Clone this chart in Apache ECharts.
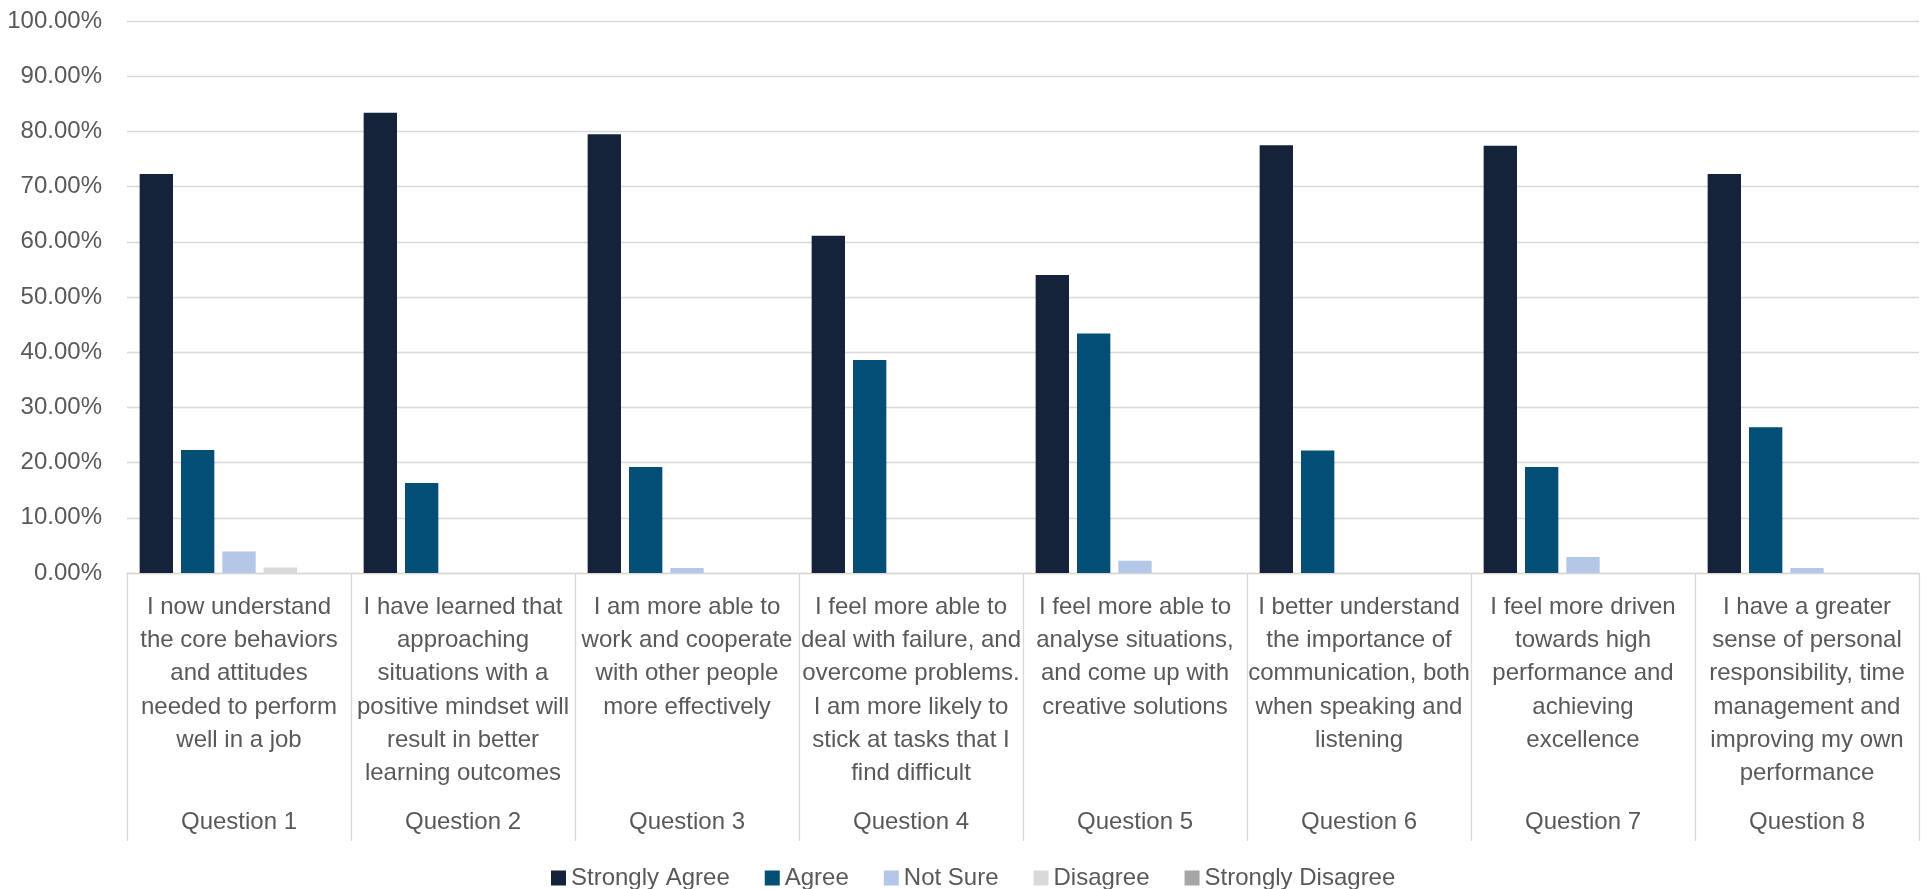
<!DOCTYPE html>
<html>
<head>
<meta charset="utf-8">
<title>Survey responses by question</title>
<script src="https://cdn.jsdelivr.net/npm/echarts@6/dist/echarts.min.js"></script>
<style>
  html, body { margin: 0; padding: 0; background: #ffffff; }
  #chart { width: 1927px; height: 889px; }
</style>
</head>
<body>
<div id="chart"></div>
<script>
// Question statements, wrapped as they appear under each group
const statements = [
  'I now understand\nthe core behaviors\nand attitudes\nneeded to perform\nwell in a job',
  'I have learned that\napproaching\nsituations with a\npositive mindset will\nresult in better\nlearning outcomes',
  'I am more able to\nwork and cooperate\nwith other people\nmore effectively',
  'I feel more able to\ndeal with failure, and\novercome problems.\nI am more likely to\nstick at tasks that I\nfind difficult',
  'I feel more able to\nanalyse situations,\nand come up with\ncreative solutions',
  'I better understand\nthe importance of\ncommunication, both\nwhen speaking and\nlistening',
  'I feel more driven\ntowards high\nperformance and\nachieving\nexcellence',
  'I have a greater\nsense of personal\nresponsibility, time\nmanagement and\nimproving my own\nperformance'
];
const questions = ['Question 1', 'Question 2', 'Question 3', 'Question 4',
                   'Question 5', 'Question 6', 'Question 7', 'Question 8'];

// Share of respondents (%) per answer, one value per question
const stronglyAgree    = [72.3, 83.4, 79.5, 61.1, 54.0, 77.5, 77.4, 72.3];
const agree            = [22.3, 16.3, 19.2, 38.6, 43.4, 22.2, 19.2, 26.4];
const notSure          = [3.9, 0, 0.9, 0, 2.2, 0, 2.9, 0.9];
const disagree         = [1.0, 0, 0, 0, 0, 0, 0, 0];
const stronglyDisagree = [0, 0, 0, 0, 0, 0, 0, 0];

const yTicks = { min: 0, max: 100, interval: 10 };

const answers = [
  { name: 'Strongly Agree',    data: stronglyAgree,    color: '#14233A' },
  { name: 'Agree',             data: agree,            color: '#024E74' },
  { name: 'Not Sure',          data: notSure,          color: '#B4C7E7' },
  { name: 'Disagree',          data: disagree,         color: '#D9D9D9' },
  { name: 'Strongly Disagree', data: stronglyDisagree, color: '#A6A6A6' }
];

const FONT = "'Liberation Sans', Arial, Helvetica, sans-serif";
const TEXT = '#595959';
const RULE = '#D9D9D9';

const chart = echarts.init(document.getElementById('chart'), null, { renderer: 'canvas' });

chart.setOption({
  backgroundColor: '#ffffff',
  animation: false,
  textStyle: { fontFamily: FONT },
  grid: { left: 127, right: 8, top: 21, bottom: 316, containLabel: false },
  legend: {
    left: 551,
    top: 866,
    padding: 0,
    icon: 'rect',
    itemWidth: 15,
    itemHeight: 15,
    itemGap: 35,
    textStyle: { color: TEXT, fontSize: 24, fontFamily: FONT, lineHeight: 24 },
    data: answers.map(a => a.name)
  },
  xAxis: [
    {
      type: 'category',
      position: 'bottom',
      data: statements,
      axisLine: { show: true, lineStyle: { color: RULE, width: 1.3 } },
      axisTick: { show: true, length: 268, lineStyle: { color: RULE, width: 1.3 } },
      axisLabel: {
        interval: 0,
        margin: 17.5,
        color: TEXT,
        fontSize: 24,
        fontFamily: FONT,
        lineHeight: 33.3,
        align: 'center',
        verticalAlign: 'top'
      },
      splitLine: { show: false }
    },
    {
      type: 'category',
      position: 'bottom',
      data: questions,
      axisLine: { show: false },
      axisTick: { show: false },
      axisLabel: {
        interval: 0,
        margin: 232.5,
        color: TEXT,
        fontSize: 24,
        fontFamily: FONT,
        lineHeight: 33.3,
        align: 'center',
        verticalAlign: 'top'
      },
      splitLine: { show: false }
    }
  ],
  yAxis: {
    type: 'value',
    min: yTicks.min,
    max: yTicks.max,
    interval: yTicks.interval,
    axisLine: { show: false },
    axisTick: { show: false },
    splitLine: { show: true, lineStyle: { color: RULE, width: 1.3 } },
    axisLabel: {
      margin: 25,
      color: TEXT,
      fontSize: 24,
      fontFamily: FONT,
      padding: [0, 0, 8, 0],
      formatter: v => v.toFixed(2) + '%'
    }
  },
  series: answers.map(a => ({
    name: a.name,
    type: 'bar',
    xAxisIndex: 0,
    data: a.data,
    barGap: '24%',
    barCategoryGap: '11.3%',
    itemStyle: { color: a.color }
  }))
});
</script>
</body>
</html>
